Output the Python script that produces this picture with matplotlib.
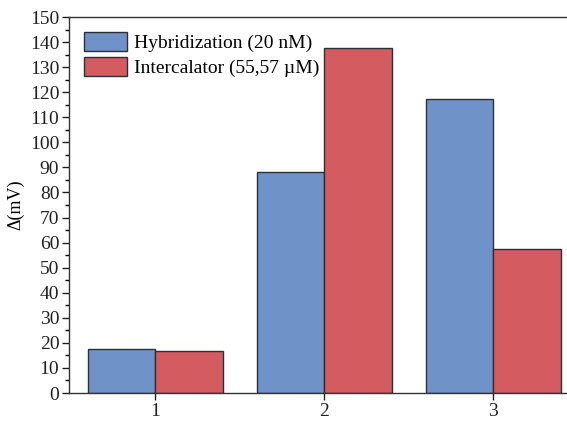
import numpy as np
import matplotlib.pyplot as plt
from matplotlib.ticker import MultipleLocator

groups = [1, 2, 3]
hybrid = [17.7, 88.0, 117.1]
intercal = [16.9, 137.8, 57.6]
labels = ["Hybridization (20 nM)", "Intercalator (55,57 \u00b5M)"]

plt.rcParams['font.family'] = ['Liberation Serif', 'DejaVu Serif']

fig = plt.figure(figsize=(5.67, 4.24), dpi=100)
ax = fig.add_axes([0.1217, 0.0731, 0.9, 0.8868])

x = np.array(groups)
w = 0.4
ax.bar(x - w / 2, hybrid, w, color='#6f93c9', edgecolor='#2a2f3a', linewidth=1, label=labels[0])
ax.bar(x + w / 2, intercal, w, color='#d45b5f', edgecolor='#2a2f3a', linewidth=1, label=labels[1])

ax.set_xlim(0.49, 3.51)
ax.set_ylim(0, 150)
ax.set_xticks(groups)
ax.yaxis.set_major_locator(MultipleLocator(10))
ax.yaxis.set_minor_locator(MultipleLocator(5))
ax.tick_params(axis='both', direction='out', labelsize=14, width=1, length=5, pad=2, colors='#222222')
ax.tick_params(axis='y', which='minor', direction='out', length=3, width=1)
for s in ax.spines.values():
    s.set_linewidth(1)
    s.set_color('#333333')
ax.set_ylabel("\u0394(mV)", fontsize=13, labelpad=4)

ax.legend(loc='upper left', frameon=False, fontsize=14, handlelength=2.25, handleheight=1.15,
          handletextpad=0.35, labelspacing=0.25, borderaxespad=0.35)

fig.savefig("out.png", dpi=100)
